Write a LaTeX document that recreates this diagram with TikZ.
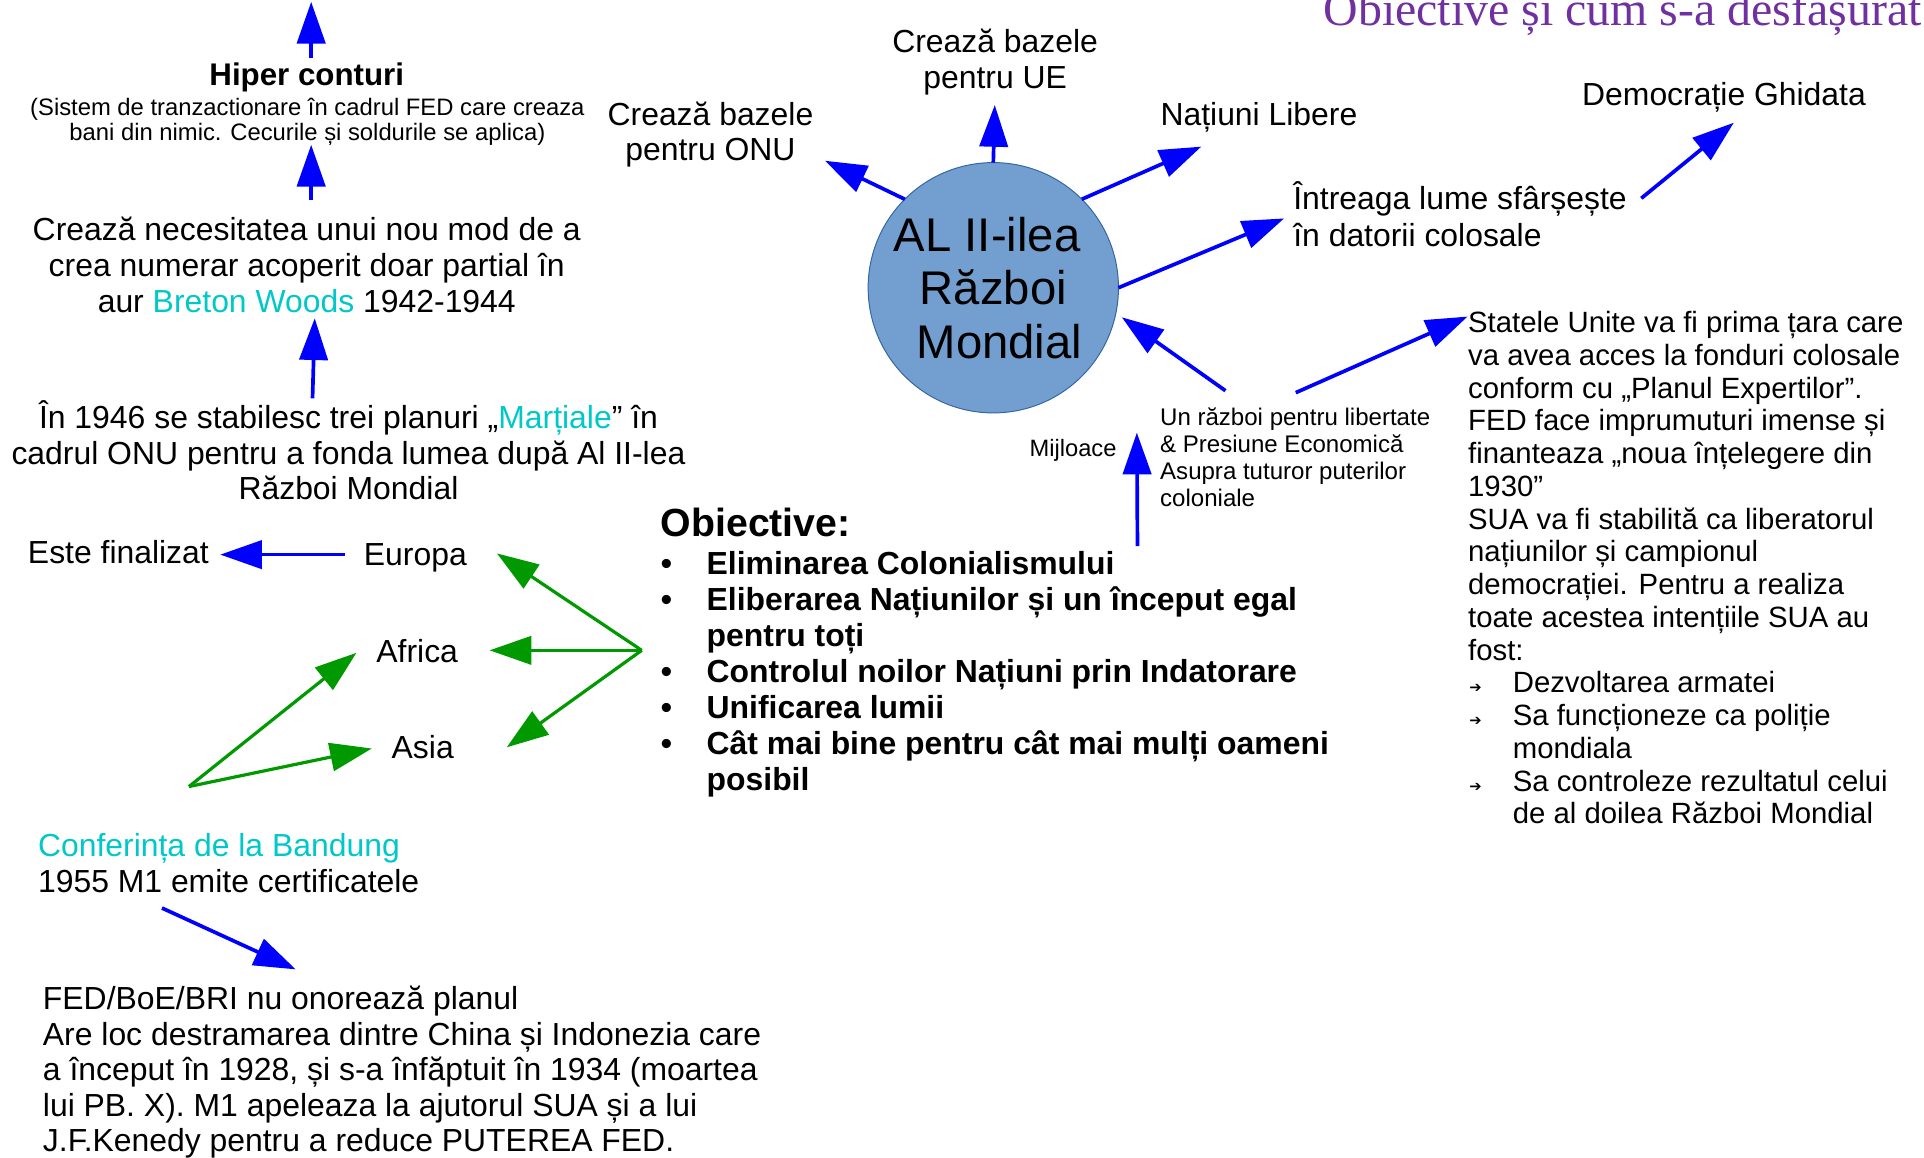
\documentclass[tikz,border=0pt]{standalone}
\usepackage{fontspec}
\setmainfont{Liberation Sans}
\newfontfamily\titlefont{Liberation Serif}
\newfontfamily\symfont{DejaVu Sans}
\usetikzlibrary{arrows.meta}
\definecolor{arrblue}{RGB}{0,0,255}
\definecolor{arrgreen}{RGB}{0,153,0}
\definecolor{cyanT}{RGB}{0,200,200}
\definecolor{titlepurple}{RGB}{112,48,160}
\definecolor{warfill}{RGB}{114,159,207}
\definecolor{wardraw}{RGB}{52,101,164}
\begin{document}
\begin{tikzpicture}[x=1pt,y=-1pt,
  every node/.style={inner sep=0pt, outer sep=0pt},
  body/.style={font=\fontsize{26}{29.2}\selectfont, align=center},
  bodyl/.style={font=\fontsize{26}{29.2}\selectfont, align=left},
  small/.style={font=\fontsize{19.6}{22}\selectfont, align=left},
  barrow/.style={draw=arrblue, line width=3pt, -{Triangle[length=34pt,width=23pt]}, arrblue},
  garrow/.style={draw=arrgreen, line width=2.6pt, -{Triangle[length=34pt,width=23pt]}, arrgreen}
]
\useasboundingbox (0,0) rectangle (1568,943);
\clip (0,0) rectangle (1568,943);

% title
\node[anchor=base east, font=\titlefont\fontsize{39}{39}\selectfont, text=titlepurple] (title) at (1566,21) {Obiective și cum s-a desfașurat};

% left column (base anchor of multi-line nodes = last line baseline)
\node[anchor=base, font=\bfseries\fontsize{25.5}{28}\selectfont] (hiper) at (250,70) {Hiper conturi};
\node[anchor=base, font=\fontsize{19.4}{20.5}\selectfont, align=center] (hipersub) at (250.5,114.3) {(Sistem de tranzactionare în cadrul FED care creaza\\bani din nimic. Cecurile și soldurile se aplica)};
\node[anchor=base, body] (nou) at (250,254.4) {Crează necesitatea unui nou mod de a\\crea numerar acoperit doar partial în\\aur \textcolor{cyanT}{Breton Woods} 1942-1944};
\node[anchor=base, body] (plan) at (284,407.4) {În 1946 se stabilesc trei planuri „\textcolor{cyanT}{Marțiale}” în\\cadrul ONU pentru a fonda lumea după Al II-lea\\Război Mondial};

\coordinate (topend) at (253.6,1.5);
\coordinate (hiperup) at (253.6,47.5);
\coordinate (hiperdown) at (253.6,118);
\coordinate (nouup) at (253.6,163);
\coordinate (noudown) at (256.5,259.4);
\coordinate (planup) at (254.7,324.6);
\draw[barrow] (hiperup) -- (topend);
\draw[barrow] (nouup) -- (hiperdown);
\draw[barrow] (planup) -- (noudown);

\node[anchor=base, body] (este) at (96.5,459) {Este finalizat};
\node[anchor=base, body] (europa) at (338.5,460.5) {Europa};
\node[anchor=base, body] (africa) at (340,540) {Africa};
\node[anchor=base, body] (asia) at (344.5,618) {Asia};
\coordinate (europaw) at (281,452);
\coordinate (estee) at (179.5,452);
\draw[barrow] (europaw) -- (estee);

\coordinate (g1) at (523,530);
\coordinate (g2) at (154,641);
\coordinate (eurtip) at (405,451);
\coordinate (afrtip) at (399,530);
\coordinate (asitip) at (413,609);
\coordinate (afrtip2) at (290.5,532);
\coordinate (asitip2) at (303,610);
\draw[garrow] (g1) -- (eurtip);
\draw[garrow] (g1) -- (afrtip);
\draw[garrow] (g1) -- (asitip);
\draw[garrow] (g2) -- (afrtip2);
\draw[garrow] (g2) -- (asitip2);

\node[anchor=base west, bodyl] (bandung) at (31,727) {\textcolor{cyanT}{Conferința de la Bandung}\\1955 M1 emite certificatele};
\node[anchor=base west, font=\fontsize{26}{28.9}\selectfont, align=left] (fed) at (35,938.5) {FED/BoE/BRI nu onorează planul\\Are loc destramarea dintre China și Indonezia care\\a început în 1928, și s-a înfăptuit în 1934 (moartea\\lui PB. X). M1 apeleaza la ajutorul SUA și a lui\\J.F.Kenedy pentru a reduce PUTEREA FED.};
\coordinate (bandout) at (132,740);
\coordinate (fedin) at (241,790);
\draw[barrow] (bandout) -- (fedin);

% central circle
\node[circle, minimum size=204pt, fill=warfill, draw=wardraw, line width=0.8pt, align=center, font=\fontsize{38.5}{43.5}\selectfont] (war) at (809.5,234.5) {AL II-ilea\kern10pt\\Război\\\kern10pt Mondial};

\node[anchor=base, body] (onu) at (579,131.2) {Crează bazele\\pentru ONU};
\node[anchor=base, body] (ue) at (811,72) {Crează bazele\\pentru UE};
\node[anchor=base, body] (nat) at (1026,102) {Națiuni Libere};
\node[anchor=base west, font=\fontsize{26}{30}\selectfont, align=left] (datorii) at (1054,201) {Întreaga lume sfârșește\\în datorii colosale};
\node[anchor=base, body] (dem) at (1405,86) {Democrație Ghidata};

\coordinate (onutip) at (672.3,131);
\coordinate (uetip) at (810.7,85.6);
\coordinate (nattip) at (979,119.5);
\coordinate (dattip) at (1046.5,178);
\coordinate (datout) at (1337.6,161.6);
\coordinate (demtip) at (1413,100);
\draw[barrow] (war.135) -- (onutip);
\draw[barrow] (war.90) -- (uetip);
\draw[barrow] (war.45) -- (nattip);
\draw[barrow] (war.0) -- (dattip);
\draw[barrow] (datout) -- (demtip);

\node[anchor=base west, small] (lib) at (945.5,412.5) {Un război pentru libertate\\\& Presiune Economică\\Asupra tuturor puterilor\\coloniale};
\node[anchor=base, font=\fontsize{19.3}{21.7}\selectfont] (mij) at (874.5,372) {Mijloace};
\coordinate (libl) at (998.7,318.4);
\coordinate (libr) at (1056,320);
\coordinate (wartip) at (914.3,258.6);
\coordinate (sttip) at (1196,258);
\coordinate (mijbot) at (927,445);
\coordinate (mijtip) at (926.5,352.6);
\draw[barrow] (libl) -- (wartip);
\draw[barrow] (libr) -- (sttip);
\draw[barrow] (mijbot) -- (mijtip);

% objectives
\node[anchor=base west, font=\bfseries\fontsize{32}{36}\selectfont] (obj) at (538.5,437.5) {Obiective:};
\node[anchor=base west, font=\bfseries\fontsize{26}{29.3}\selectfont, align=left] (objlist) at (538.5,644) {%
\makebox[37.4pt][l]{•}Eliminarea Colonialismului\\
\makebox[37.4pt][l]{•}Eliberarea Națiunilor și un început egal\\
\makebox[37.4pt][l]{}pentru toți\\
\makebox[37.4pt][l]{•}Controlul noilor Națiuni prin Indatorare\\
\makebox[37.4pt][l]{•}Unificarea lumii\\
\makebox[37.4pt][l]{•}Cât mai bine pentru cât mai mulți oameni\\
\makebox[37.4pt][l]{}posibil};

% right text
\node[anchor=base west, font=\fontsize{23.9}{26.7}\selectfont, align=left] (sua) at (1196.5,671.5) {%
Statele Unite va fi prima țara care\\
va avea acces la fonduri colosale\\
conform cu „Planul Expertilor”.\\
FED face imprumuturi imense și\\
finanteaza „noua înțelegere din\\
1930”\\
SUA va fi stabilită ca liberatorul\\
națiunilor și campionul\\
democrației. Pentru a realiza\\
toate acestea intențiile SUA au\\
fost:\\
\makebox[36.4pt][l]{\kern1pt\symfont\fontsize{12}{12}\selectfont ➔}Dezvoltarea armatei\\
\makebox[36.4pt][l]{\kern1pt\symfont\fontsize{12}{12}\selectfont ➔}Sa funcționeze ca poliție\\
\makebox[36.4pt][l]{}mondiala\\
\makebox[36.4pt][l]{\kern1pt\symfont\fontsize{12}{12}\selectfont ➔}Sa controleze rezultatul celui\\
\makebox[36.4pt][l]{}de al doilea Război Mondial};
\end{tikzpicture}
\end{document}
